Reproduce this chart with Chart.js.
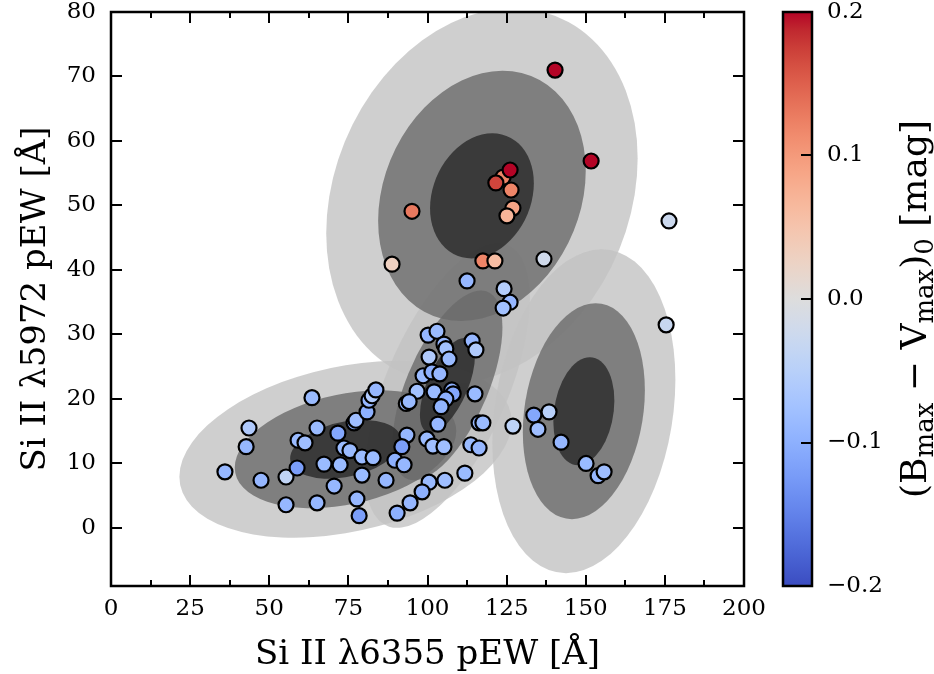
<!DOCTYPE html>
<html>
<head>
<meta charset="utf-8">
<script src="https://cdn.jsdelivr.net/npm/chart.js@4.4.1/dist/chart.umd.min.js"></script>
<style>
  html, body { margin: 0; padding: 0; background: #fff; }
  #wrap { position: relative; width: 934px; height: 674px; }
  #main { position: absolute; left: 0; top: 0; }
  #cbar { position: absolute; left: 760px; top: 0; }
</style>
</head>
<body>
<div id="wrap">
  <canvas id="main" width="934" height="674"></canvas>
  <canvas id="cbar" width="174" height="674"></canvas>
</div>
<script>
// ---- Supernova sample: Si II pseudo-equivalent widths and colour at maximum ----
const pewSi6355 = [
  140.3, 151.7, 123.9, 121.6, 126.1, 126.4, 127.0, 125.1, 95.1, 88.8,
  117.5, 121.3, 136.8, 176.3, 112.5, 124.2, 126.1, 123.9, 175.4,
  138.4, 133.6, 134.9, 127.0, 142.2, 150.1, 153.9, 155.8,
  100.2, 103.0, 105.2, 105.8, 106.8, 114.1, 115.3, 100.5, 98.6, 101.4,
  103.9, 96.7, 102.1, 107.7, 108.1, 105.8, 104.3, 93.3, 94.2, 115.0,
  103.3, 116.3, 117.5, 93.5, 91.9, 99.8, 101.7, 105.2, 113.7, 116.3,
  89.7, 92.6, 86.9, 100.5, 105.5, 111.8, 98.3, 94.5, 90.4,
  63.5, 43.6, 42.7, 36.0, 47.4, 55.3, 58.8, 55.3, 65.1, 59.1,
  61.3, 65.1, 71.7, 67.3, 72.4, 70.5, 77.7, 78.4, 73.6, 75.5,
  76.8, 77.4, 80.9, 81.5, 82.5, 83.7, 79.3, 82.8, 79.3
];
const pewSi5972 = [
  71.0, 56.9, 54.4, 53.5, 55.5, 52.4, 49.6, 48.4, 49.1, 40.9,
  41.4, 41.4, 41.7, 47.6, 38.3, 37.1, 35.0, 34.1, 31.5,
  18.0, 17.5, 15.3, 15.8, 13.3, 10.0, 8.1, 8.7,
  29.9, 30.5, 28.5, 27.8, 26.2, 29.0, 27.6, 26.5, 23.6, 24.2,
  23.9, 21.2, 21.1, 21.4, 20.8, 20.0, 18.8, 19.3, 19.6, 20.8,
  16.1, 16.3, 16.3, 14.4, 12.6, 13.8, 12.7, 12.6, 12.9, 12.4,
  10.5, 9.8, 7.4, 7.1, 7.4, 8.5, 5.6, 3.9, 2.3,
  20.2, 15.5, 12.6, 8.7, 7.4, 7.9, 9.3, 3.6, 3.9, 13.6,
  13.2, 15.5, 14.7, 9.9, 9.8, 6.5, 4.5, 1.9, 12.4, 12.0,
  16.3, 16.7, 18.0, 19.8, 20.5, 21.4, 11.0, 10.9, 8.2
];
const bvMax = [
  0.20, 0.20, 0.12, 0.17, 0.20, 0.12, 0.09, 0.07, 0.13, 0.03,
  0.12, 0.06, -0.02, -0.025, -0.09, -0.055, -0.09, -0.075, -0.03,
  -0.05, -0.11, -0.08, -0.045, -0.09, -0.085, -0.09, -0.08,
  -0.09, -0.085, -0.09, -0.075, -0.085, -0.09, -0.06, -0.06, -0.085, -0.10,
  -0.09, -0.075, -0.085, -0.10, -0.11, -0.10, -0.095, -0.09, -0.085, -0.085,
  -0.09, -0.09, -0.085, -0.09, -0.12, -0.085, -0.08, -0.08, -0.085, -0.09,
  -0.10, -0.09, -0.09, -0.085, -0.08, -0.085, -0.10, -0.09, -0.10,
  -0.085, -0.06, -0.09, -0.09, -0.09, -0.04, -0.12, -0.09, -0.09, -0.085,
  -0.08, -0.085, -0.11, -0.085, -0.085, -0.09, -0.09, -0.12, -0.085, -0.085,
  -0.10, -0.08, -0.10, -0.09, -0.06, -0.09, -0.085, -0.085, -0.085
];

// ---- Gaussian mixture components (mean, 1-sigma widths, correlation) ----
const compX    = [117.2, 74.1, 106.3, 149.4];
const compY    = [51.5, 12.2, 22.1, 18.1];
const compSigX = [16.4, 17.5, 8.69, 9.64];
const compSigY = [9.7, 4.57, 7.36, 8.37];
const compRho  = [0.20, 0.31, 0.61, 0.195];
const sigmaLevels = [3, 2, 1];
const levelFill = ['rgba(195,195,195,0.8)', 'rgba(108,108,108,0.8)', 'rgba(41,41,41,0.8)'];

// ---- Axes ----
const xTickValues = [0, 25, 50, 75, 100, 125, 150, 175, 200];
const xMinorValues = [12.5, 37.5, 62.5, 87.5, 112.5, 137.5, 162.5, 187.5];
const yTickValues = [0, 10, 20, 30, 40, 50, 60, 70, 80];
const xRange = [0, 200];
const yRange = [-9, 80];
const cbTickValues = [-0.2, -0.1, 0.0, 0.1, 0.2];
const cbRange = [-0.2, 0.2];

// matplotlib "coolwarm" colour map
const coolwarm = [
  [59,76,192],[68,90,204],[77,104,215],[87,117,225],[98,130,234],[108,142,241],
  [119,154,247],[130,165,251],[141,176,254],[152,185,255],[163,194,255],[174,201,253],
  [184,208,249],[194,213,244],[204,217,238],[213,219,230],[221,221,221],[229,216,209],
  [236,211,197],[241,204,185],[245,196,173],[247,187,160],[247,177,148],[247,166,135],
  [244,154,123],[241,141,111],[236,127,99],[229,112,88],[222,96,77],[213,80,66],
  [203,62,56],[192,40,47],[180,4,38]
];
function cmapAt(t) {
  t = Math.max(0, Math.min(1, t));
  const f = t * (coolwarm.length - 1);
  const i = Math.min(Math.floor(f), coolwarm.length - 2);
  const u = f - i;
  const a = coolwarm[i], b = coolwarm[i + 1];
  const c = [0, 1, 2].map(k => Math.round(a[k] + (b[k] - a[k]) * u));
  return `rgb(${c[0]},${c[1]},${c[2]})`;
}
function colorFor(v) { return cmapAt((v - cbRange[0]) / (cbRange[1] - cbRange[0])); }

const SERIF = "'DejaVu Serif', 'Liberation Serif', serif";
const TICK_SIZE = 23;
const TITLE_SIZE = 34;
const CB_LABEL_SIZE = 36;

const points = pewSi6355.map((x, i) => ({ x: x, y: pewSi5972[i] }));
const pointColors = bvMax.map(colorFor);

// keep the plotting box fixed: no extra room reserved for edge tick labels
function fixVertical(width) {
  return s => { s.width = width; s.paddingTop = 0; s.paddingBottom = 0; };
}

// Filled 1/2/3-sigma ellipses, drawn level by level beneath the points
const ellipsePlugin = {
  id: 'gmmEllipses',
  beforeDatasetsDraw(chart) {
    const { ctx, chartArea: a, scales } = chart;
    const sx = scales.x, sy = scales.y;
    const kx = sx.getPixelForValue(1) - sx.getPixelForValue(0);
    const ky = sy.getPixelForValue(1) - sy.getPixelForValue(0);
    ctx.save();
    ctx.beginPath();
    ctx.rect(a.left, a.top, a.right - a.left, a.bottom - a.top);
    ctx.clip();
    sigmaLevels.forEach((n, li) => {
      ctx.fillStyle = levelFill[li];
      for (let i = 0; i < compX.length; i++) {
        const r = compRho[i];
        ctx.save();
        ctx.translate(sx.getPixelForValue(compX[i]), sy.getPixelForValue(compY[i]));
        ctx.transform(n * compSigX[i] * kx, n * r * compSigY[i] * ky,
                      0, n * compSigY[i] * Math.sqrt(1 - r * r) * ky, 0, 0);
        ctx.beginPath();
        ctx.arc(0, 0, 1, 0, 2 * Math.PI);
        ctx.restore();
        ctx.fill();
      }
    });
    ctx.restore();
  }
};

// Frame, inward ticks on all four sides and axis titles
const framePlugin = {
  id: 'frameTicks',
  afterDraw(chart) {
    const { ctx, chartArea: a, scales } = chart;
    const sx = scales.x, sy = scales.y;
    ctx.save();
    ctx.strokeStyle = '#000';
    ctx.lineWidth = 2;
    ctx.beginPath();
    xTickValues.forEach(v => {
      const p = Math.round(sx.getPixelForValue(v));
      ctx.moveTo(p, a.bottom); ctx.lineTo(p, a.bottom - 11);
      ctx.moveTo(p, a.top); ctx.lineTo(p, a.top + 11);
    });
    xMinorValues.forEach(v => {
      const p = Math.round(sx.getPixelForValue(v));
      ctx.moveTo(p, a.bottom); ctx.lineTo(p, a.bottom - 6);
      ctx.moveTo(p, a.top); ctx.lineTo(p, a.top + 6);
    });
    yTickValues.forEach(v => {
      const p = Math.round(sy.getPixelForValue(v));
      ctx.moveTo(a.left, p); ctx.lineTo(a.left + 11, p);
      ctx.moveTo(a.right, p); ctx.lineTo(a.right - 11, p);
    });
    ctx.stroke();
    ctx.lineWidth = 2.5;
    ctx.strokeRect(a.left, a.top, a.right - a.left, a.bottom - a.top);

    ctx.fillStyle = '#000';
    ctx.font = `${TITLE_SIZE}px ${SERIF}`;
    ctx.textAlign = 'center';
    ctx.textBaseline = 'middle';
    ctx.fillText('Si II λ6355 pEW [Å]', (a.left + a.right) / 2, 655);
    ctx.translate(36, (a.top + a.bottom) / 2);
    ctx.rotate(-Math.PI / 2);
    ctx.fillText('Si II λ5972 pEW [Å]', 0, 0);
    ctx.restore();
  }
};

new Chart(document.getElementById('main'), {
  type: 'scatter',
  data: {
    datasets: [{
      data: points,
      pointRadius: 7.5,
      pointHoverRadius: 7.5,
      pointBorderWidth: 2.2,
      borderColor: '#000',
      pointBorderColor: '#000',
      backgroundColor: pointColors,
      pointBackgroundColor: pointColors
    }]
  },
  options: {
    responsive: false,
    animation: false,
    events: [],
    layout: { padding: { left: 0, right: 190, top: 12, bottom: 0 } },
    plugins: { legend: { display: false }, tooltip: { enabled: false } },
    scales: {
      x: {
        type: 'linear', min: xRange[0], max: xRange[1],
        afterBuildTicks: s => { s.ticks = xTickValues.map(v => ({ value: v })); },
        afterFit: s => { s.height = 88; s.paddingLeft = 0; s.paddingRight = 0; },
        grid: { display: false, drawTicks: false },
        border: { display: false },
        ticks: { color: '#000', padding: 9, maxRotation: 0, font: { family: SERIF, size: TICK_SIZE } }
      },
      y: {
        type: 'linear', min: yRange[0], max: yRange[1],
        afterBuildTicks: s => { s.ticks = yTickValues.map(v => ({ value: v })); },
        afterFit: fixVertical(111),
        grid: { display: false, drawTicks: false },
        border: { display: false },
        ticks: { color: '#000', padding: 15, font: { family: SERIF, size: TICK_SIZE } }
      }
    }
  },
  plugins: [ellipsePlugin, framePlugin]
});

// ---- Colour bar ----
function cbGradient(chart) {
  const a = chart.chartArea;
  if (!a) return colorFor(0);
  const g = chart.ctx.createLinearGradient(0, a.bottom, 0, a.top);
  coolwarm.forEach((c, i) => g.addColorStop(i / (coolwarm.length - 1), `rgb(${c[0]},${c[1]},${c[2]})`));
  return g;
}

const cbFramePlugin = {
  id: 'cbFrame',
  afterDraw(chart) {
    const { ctx, chartArea: a, scales } = chart;
    const s = scales.y;
    ctx.save();
    ctx.strokeStyle = '#000';
    ctx.lineWidth = 2;
    ctx.beginPath();
    cbTickValues.forEach(v => {
      const p = Math.round(s.getPixelForValue(v));
      ctx.moveTo(a.right, p); ctx.lineTo(a.right - 11, p);
    });
    ctx.stroke();
    ctx.lineWidth = 2.5;
    ctx.strokeRect(a.left, a.top, a.right - a.left, a.bottom - a.top);

    // (B_max − V_max)_0 [mag], rotated, with subscripts
    const big = `${CB_LABEL_SIZE}px ${SERIF}`;
    const small = `${Math.round(CB_LABEL_SIZE * 0.72)}px ${SERIF}`;
    const parts = [
      ['(B', big, 0], ['max', small, 7], [' − V', big, 0], ['max', small, 7],
      [')', big, 0], ['0', small, 7], [' [mag]', big, 0]
    ];
    let total = 0;
    parts.forEach(p => { ctx.font = p[1]; total += ctx.measureText(p[0]).width; });
    ctx.translate(155, (a.top + a.bottom) / 2 + 10);
    ctx.rotate(-Math.PI / 2);
    ctx.fillStyle = '#000';
    ctx.textAlign = 'left';
    ctx.textBaseline = 'alphabetic';
    let x = -total / 2;
    parts.forEach(p => {
      ctx.font = p[1];
      ctx.fillText(p[0], x, 11 + p[2]);
      x += ctx.measureText(p[0]).width;
    });
    ctx.restore();
  }
};

new Chart(document.getElementById('cbar'), {
  type: 'bar',
  data: {
    labels: [''],
    datasets: [{
      data: [[cbRange[0], cbRange[1]]],
      backgroundColor: ctx => cbGradient(ctx.chart),
      borderWidth: 0,
      barPercentage: 1,
      categoryPercentage: 1
    }]
  },
  options: {
    responsive: false,
    animation: false,
    events: [],
    layout: { padding: { left: 23, right: 0, top: 12, bottom: 88 } },
    plugins: { legend: { display: false }, tooltip: { enabled: false } },
    scales: {
      x: { display: false },
      y: {
        position: 'right', min: cbRange[0], max: cbRange[1],
        afterBuildTicks: s => { s.ticks = cbTickValues.map(v => ({ value: v })); },
        afterFit: fixVertical(122),
        grid: { display: false, drawTicks: false },
        border: { display: false },
        ticks: {
          color: '#000', padding: 15, font: { family: SERIF, size: TICK_SIZE },
          callback: v => (v < 0 ? '−' : '') + Math.abs(v).toFixed(1)
        }
      }
    }
  },
  plugins: [cbFramePlugin]
});
</script>
</body>
</html>
